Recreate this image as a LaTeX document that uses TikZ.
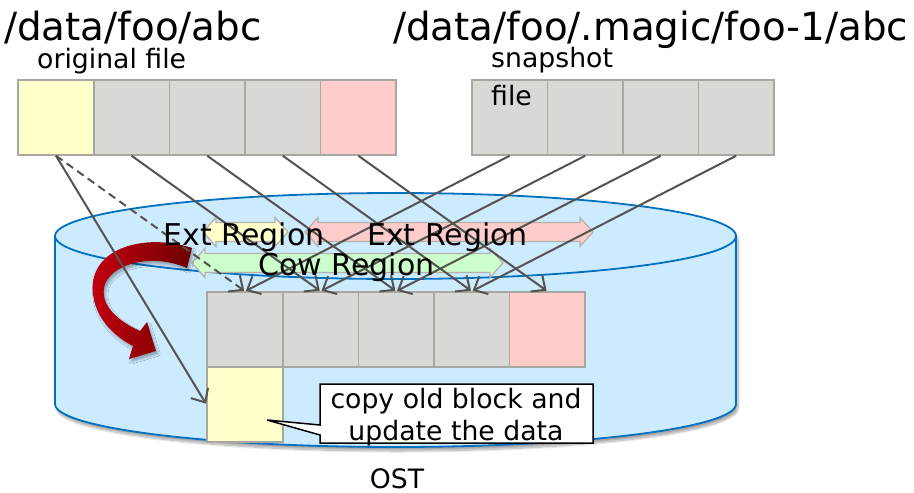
\documentclass[tikz,border=0pt]{standalone}
\usepackage{fontspec}
\setmainfont{DejaVu Sans}
\usetikzlibrary{arrows.meta,shadows.blur}

\definecolor{blockgray}{HTML}{D9D8D5}
\definecolor{blockedge}{HTML}{A8A7A0}
\definecolor{yellowfill}{HTML}{FFFFCC}
\definecolor{pinkfill}{HTML}{FFCCCC}
\definecolor{greenfill}{HTML}{CCFFCC}
\definecolor{cylfill}{HTML}{CCEBFF}
\definecolor{cyledge}{HTML}{0070C0}
\definecolor{linegray}{HTML}{54534D}
\definecolor{regionedge}{HTML}{B3B3AB}
\definecolor{arrowred}{HTML}{C4000F}
\definecolor{arrowdark}{HTML}{6E0000}

\newcommand\titlefont{\fontsize{38.8}{46}\selectfont}
\newcommand\labelfont{\fontsize{26.7}{32}\selectfont}
\newcommand\regionfont{\fontsize{30}{36}\selectfont}

\tikzset{
  blk/.style={draw=blockedge, line width=1.5pt, fill=blockgray,
    minimum width=75.6pt, minimum height=75pt, inner sep=0pt},
  conn/.style={draw=linegray, line width=2pt,
    -{Straight Barb[length=11pt,width=20pt]}, shorten >=1pt},
  region/.style={draw=regionedge, line width=1.3pt, line join=miter},
  txt/.style={inner sep=0pt, text=black},
}

\begin{document}
\begin{tikzpicture}[x=1pt, y=-1pt]
\useasboundingbox (0,0) rectangle (914,493);

% storage target drawn as a cylinder
\path[fill=cylfill, blur shadow={shadow xshift=2pt, shadow yshift=-4pt,
      shadow blur steps=10, shadow opacity=35}]
  (55,236) .. controls (55,212.25) and (207.4,193) .. (395.5,193)
  .. controls (583.6,193) and (736,212.25) .. (736,236)
  -- (736,404) .. controls (736,427.75) and (583.6,447) .. (395.5,447)
  .. controls (207.4,447) and (55,427.75) .. (55,404) -- cycle;
\draw[cyledge, line width=1.8pt]
  (55,236) .. controls (55,212.25) and (207.4,193) .. (395.5,193)
  .. controls (583.6,193) and (736,212.25) .. (736,236)
  -- (736,404) .. controls (736,427.75) and (583.6,447) .. (395.5,447)
  .. controls (207.4,447) and (55,427.75) .. (55,404) -- cycle;
\draw[cyledge, line width=1.8pt]
  (55,236) .. controls (55,259.75) and (207.4,279) .. (395.5,279)
  .. controls (583.6,279) and (736,259.75) .. (736,236);

% file blocks
\node[blk, fill=yellowfill] (o1) at (56,117.5) {};
\node[blk] (o2) at (131.6,117.5) {};
\node[blk] (o3) at (207.2,117.5) {};
\node[blk] (o4) at (282.8,117.5) {};
\node[blk, fill=pinkfill] (o5) at (358.4,117.5) {};

\node[blk] (s1) at (509.7,117.5) {};
\node[blk] (s2) at (585.2,117.5) {};
\node[blk] (s3) at (660.7,117.5) {};
\node[blk] (s4) at (736.2,117.5) {};

% blocks on the OST
\node[blk] (t1) at (245,329.5) {};
\node[blk] (t2) at (320.6,329.5) {};
\node[blk] (t3) at (396.2,329.5) {};
\node[blk] (t4) at (471.8,329.5) {};
\node[blk, fill=pinkfill] (t5) at (547.4,329.5) {};
\node[blk, fill=yellowfill] (ty) at (245,404.5) {};

% extent regions as wide double-headed arrows
\path[region, fill=yellowfill]
  (203,232) -- (216,217.5) -- (216,222.5) -- (275,222.5) -- (275,217.5)
  -- (288,232) -- (275,246.5) -- (275,241.5) -- (216,241.5) -- (216,246.5) -- cycle;
\path[region, fill=pinkfill]
  (305,232) -- (318,217.5) -- (318,222.5) -- (580,222.5) -- (580,217.5)
  -- (593,232) -- (580,246.5) -- (580,241.5) -- (318,241.5) -- (318,246.5) -- cycle;
\path[region, fill=greenfill]
  (192,263) -- (205,248.5) -- (205,253.5) -- (490,253.5) -- (490,248.5)
  -- (503,263) -- (490,277.5) -- (490,272.5) -- (205,272.5) -- (205,277.5) -- cycle;

% curved red arrow
\path[left color=arrowred, right color=arrowdark,
      blur shadow={shadow xshift=2pt, shadow yshift=-3pt, shadow opacity=30}]
  (192,248) .. controls (150,234) and (98,245) .. (93,282)
  .. controls (90,310) and (108,333) .. (133,346)
  -- (129,359) -- (156,351) -- (147,322) -- (140,331)
  .. controls (120,322) and (101,307) .. (104,288)
  .. controls (108,265) and (150,252) .. (187,268) -- cycle;

% block mappings
\draw[conn] (o1.south) -- (ty.west);
\draw[conn, dash pattern=on 8pt off 5pt] (o1.south) -- (t1.north);
\draw[conn] (o2.south) -- (t2.north);
\draw[conn] (o3.south) -- (t3.north);
\draw[conn] (o4.south) -- (t4.north);
\draw[conn] (o5.south) -- (t5.north);
\draw[conn] (s1.south) -- (t1.north);
\draw[conn] (s2.south) -- (t2.north);
\draw[conn] (s3.south) -- (t3.north);
\draw[conn] (s4.south) -- (t4.north);

% region labels
\node[txt, anchor=base, font=\regionfont] (extAlbl) at (244,245) {Ext Region};
\node[txt, anchor=base, font=\regionfont] (extBlbl) at (447.5,245) {Ext Region};
\node[txt, anchor=base, font=\regionfont] (cowlbl) at (346.5,275) {Cow Region};

% file titles
\node[txt, anchor=base west, font=\titlefont] (ttlA) at (4,40) {/data/foo/abc};
\node[txt, anchor=base west, font=\titlefont] (ttlB) at (393,40) {/data/foo/.magic/foo-1/abc};
\node[txt, anchor=base west, font=\labelfont] (origlbl) at (37,68) {original file};
\node[txt, anchor=base west, font=\labelfont] (snaplbl) at (491,67) {snapshot};
\node[txt, anchor=base west, font=\labelfont] (filelbl) at (491,105) {file};

% note
\draw[black, line width=1.5pt, fill=white]
  (320,384) -- (593,384) -- (593,443) -- (320,443) -- (320,435)
  -- (267,420) -- (320,425) -- cycle;
\node[txt, anchor=base, align=center, font=\labelfont] (note) at (456,440)
  {copy old block and\\update the data};

\node[txt, anchor=base, font=\labelfont] (ost) at (397,488) {OST};
\end{tikzpicture}
\end{document}
